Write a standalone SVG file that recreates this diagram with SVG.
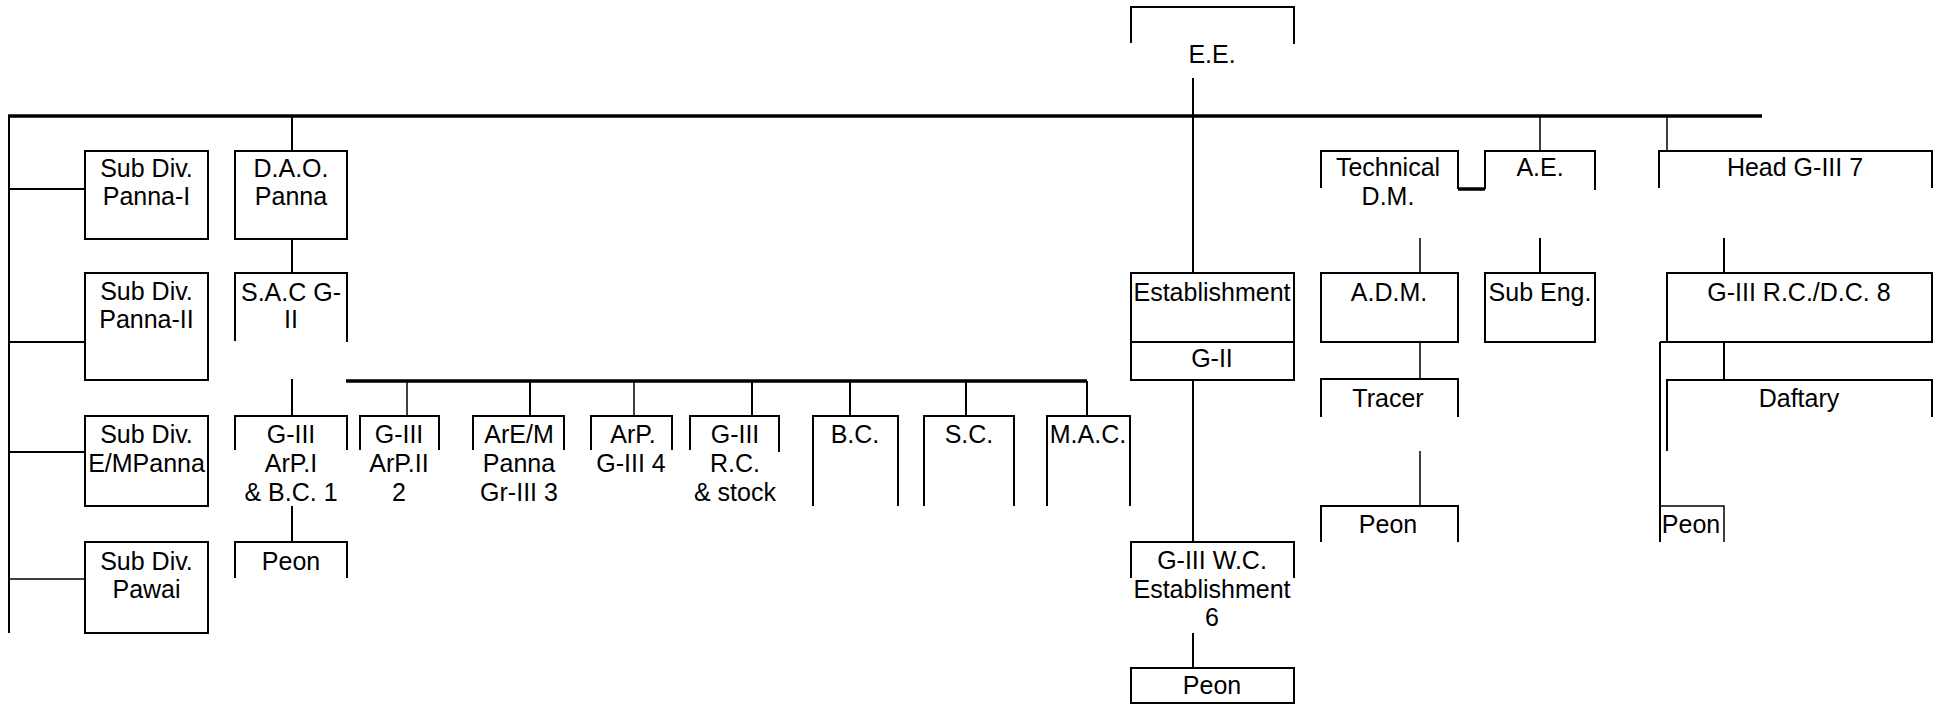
<svg xmlns="http://www.w3.org/2000/svg" width="1944" height="705" viewBox="0 0 1944 705">
<style>
.b{fill:none;stroke:#000;stroke-width:2}
.n{fill:none;stroke:#000;stroke-width:1.5}
.k{fill:none;stroke:#000;stroke-width:3.5}
text{font-family:"Liberation Sans",Arial,sans-serif;font-size:25px;fill:#000;text-anchor:middle}
</style>
<rect width="1944" height="705" fill="#fff"/>
<g id="connectors">
<path class="k" d="M8 116H1762"/>
<path class="b" d="M9 116V633"/>
<path class="b" d="M9 189H85M9 342H85M9 452H85"/>
<path class="n" d="M9 579H85"/>
<path class="b" d="M292 116V151M292 239V273M292 379V416M292 506V542"/>
<path class="k" d="M346 381H1087"/>
<path class="n" d="M407 381V416M634 381V416"/>
<path class="b" d="M530 381V416M752 381V416M850 381V416M966 381V416M1087 381V416"/>
<path class="b" d="M1193 78V273M1193 380V542M1193 633V668"/>
<path class="n" d="M1540 116V151M1667 116V151"/>
<path class="n" d="M1420 238V273M1420 342V379M1420 451V506"/>
<path class="b" d="M1540 238V273M1724 238V273M1724 342V380"/>
<path class="k" d="M1458 189H1485"/>
</g>
<g id="ee"><path class="b" d="M1131 43V7H1294V44"/><text x="1212" y="63">E.E.</text></g>
<g id="subdiv1"><rect class="b" x="85" y="151" width="123" height="88"/><text x="146.5" y="177">Sub Div.</text><text x="146.5" y="205">Panna-I</text></g>
<g id="subdiv2"><rect class="b" x="85" y="273" width="123" height="107"/><text x="146.5" y="300">Sub Div.</text><text x="146.5" y="328">Panna-II</text></g>
<g id="subdiv3"><rect class="b" x="85" y="416" width="123" height="90"/><text x="146.5" y="443">Sub Div.</text><text x="146.5" y="472">E/MPanna</text></g>
<g id="subdiv4"><rect class="b" x="85" y="542" width="123" height="91"/><text x="146.5" y="570">Sub Div.</text><text x="146.5" y="598">Pawai</text></g>
<g id="dao"><rect class="b" x="235" y="151" width="112" height="88"/><text x="291" y="177">D.A.O.</text><text x="291" y="205">Panna</text></g>
<g id="sac"><path class="b" d="M235 341V273H347V342"/><text x="291" y="301">S.A.C G-</text><text x="291" y="328">II</text></g>
<g id="g3arp1"><path class="b" d="M235 450V416H347V450"/><text x="291" y="443">G-III</text><text x="291" y="472">ArP.I</text><text x="291" y="501">&amp; B.C. 1</text></g>
<g id="peon1"><path class="b" d="M235 578V542H347V578"/><text x="291" y="570">Peon</text></g>
<g id="g3arp2"><path class="b" d="M360 450V416H439V450"/><text x="399" y="443">G-III</text><text x="399" y="472">ArP.II</text><text x="399" y="501">2</text></g>
<g id="are"><path class="b" d="M473 450V416H564V450"/><text x="519" y="443">ArE/M</text><text x="519" y="472">Panna</text><text x="519" y="501">Gr-III 3</text></g>
<g id="arp"><path class="b" d="M591 450V416H672V450"/><text x="633" y="443">ArP.</text><text x="631" y="472">G-III 4</text></g>
<g id="g3rc"><path class="b" d="M690 450V416H779V452"/><text x="735" y="443">G-III</text><text x="735" y="472">R.C.</text><text x="735" y="501">&amp; stock</text></g>
<g id="bc"><path class="b" d="M813 506V416H898V506"/><text x="855" y="443">B.C.</text></g>
<g id="sc"><path class="b" d="M924 506V416H1014V506"/><text x="969" y="443">S.C.</text></g>
<g id="mac"><path class="b" d="M1047 506V416H1130V506"/><text x="1088" y="443">M.A.C.</text></g>
<g id="estab"><rect class="b" x="1131" y="273" width="163" height="69"/><text x="1212" y="301">Establishment</text></g>
<g id="g2"><rect class="b" x="1131" y="342" width="163" height="38"/><text x="1212" y="367">G-II</text></g>
<g id="g3wc"><path class="b" d="M1131 578V542H1294V578"/><text x="1212" y="569">G-III W.C.</text><text x="1212" y="598">Establishment</text><text x="1212" y="626">6</text></g>
<g id="peon_est"><rect class="b" x="1131" y="668" width="163" height="35"/><text x="1212" y="694">Peon</text></g>
<g id="tech"><path class="b" d="M1321 188V151H1458V189"/><text x="1388" y="176">Technical</text><text x="1388" y="205">D.M.</text></g>
<g id="ae"><path class="b" d="M1485 189V151H1595V190"/><text x="1540" y="176">A.E.</text></g>
<g id="head"><path class="b" d="M1659 188V151H1932V188"/><text x="1795" y="176">Head G-III 7</text></g>
<g id="adm"><rect class="b" x="1321" y="273" width="137" height="69"/><text x="1389" y="301">A.D.M.</text></g>
<g id="subeng"><rect class="b" x="1485" y="273" width="110" height="69"/><text x="1540" y="301">Sub Eng.</text></g>
<g id="g3rcdc"><rect class="b" x="1667" y="273" width="265" height="69"/><path class="b" d="M1660 342H1667"/><text x="1799" y="301">G-III R.C./D.C. 8</text></g>
<g id="tracer"><path class="b" d="M1321 417V379H1458V417"/><text x="1388" y="407">Tracer</text></g>
<g id="peon_tr"><path class="b" d="M1321 542V506H1458V542"/><text x="1388" y="533">Peon</text></g>
<g id="daftary"><path class="b" d="M1667 451V380H1932V417"/><text x="1799" y="407">Daftary</text></g>
<g id="peon_r"><path class="b" d="M1660 342V542"/><path class="n" d="M1660 506H1724V542"/><text x="1691" y="533">Peon</text></g>
</svg>
